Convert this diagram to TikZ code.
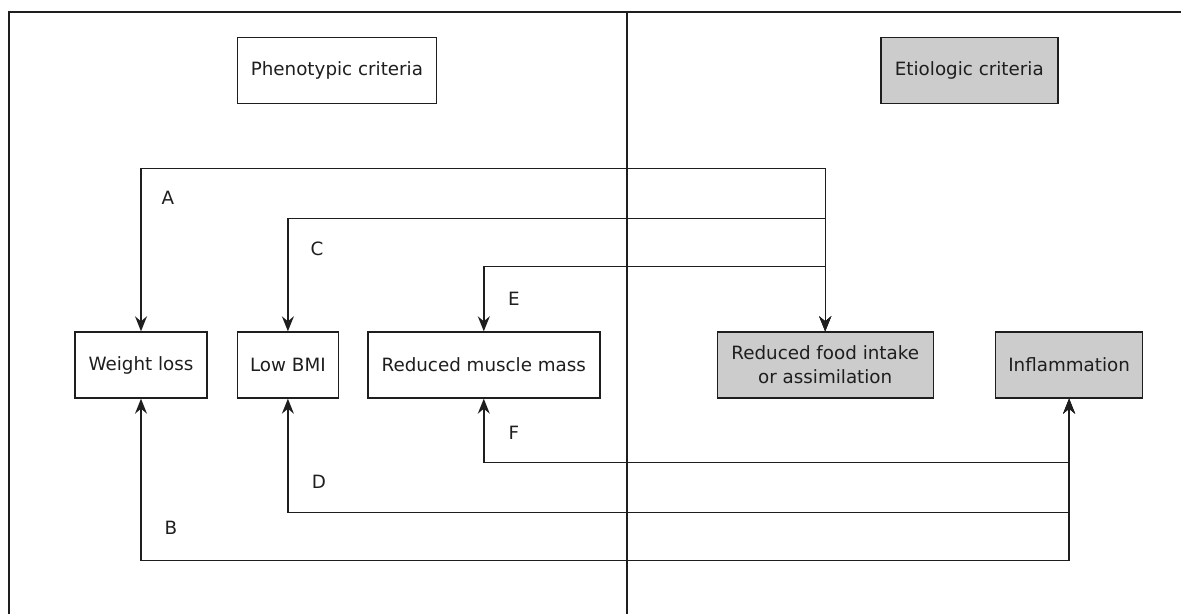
\documentclass[tikz,border=0pt]{standalone}
\usepackage{fontspec}
\setmainfont{DejaVu Sans}
\usepackage{xcolor}
\usepackage{tikz}
\usetikzlibrary{arrows.meta,positioning}
\definecolor{boxgray}{RGB}{204,204,204}
\definecolor{inkgray}{RGB}{30,30,30}

\begin{document}
\begin{tikzpicture}[
    x=1pt, y=1pt,
    font=\fontsize{18.3}{24}\selectfont,
    text=inkgray,
    pheno/.style={
        rectangle,
        draw=inkgray,
        fill=white,
        line width=1.4pt,
        minimum height=66pt,
        inner sep=4pt,
        align=center
    },
    etio/.style={
        pheno,
        fill=boxgray
    },
    link/.style={
        {Stealth[length=15pt,width=12pt,inset=5pt]}-{Stealth[length=15pt,width=12pt,inset=5pt]},
        line width=1.4pt,
        draw=inkgray
    },
    tag/.style={
        inner sep=0pt,
        text=inkgray
    },
    frame/.style={
        draw=inkgray,
        line width=1.3pt
    }
]

\useasboundingbox (0,0) rectangle (1181,-614);

\node[pheno, minimum width=132pt] (wl) at (141,-365) {Weight loss};
\node[pheno, right=29pt of wl, minimum width=101pt] (bmi) {Low BMI};
\node[pheno, right=28pt of bmi, minimum width=232pt] (rmm) {Reduced muscle mass};
\node[etio, right=116pt of rmm, minimum width=216pt] (food) {Reduced food intake\\or assimilation};
\node[etio, right=61pt of food, minimum width=147pt] (infl) {Inflammation};

\node[pheno, above=227pt of bmi.north west, anchor=south west, minimum width=199pt] (pheno) {Phenotypic criteria};
\node[etio, right=443pt of pheno, minimum width=177pt] (etio) {Etiologic criteria};

% links from reduced food intake
\draw[link] (wl.north) -- ++(0,163) node[tag, pos=0.82, xshift=27pt] {A} -| (food.north);
\draw[link] (bmi.north) -- ++(0,113) node[tag, pos=0.73, xshift=29pt] {C} -| (food.north);
\draw[link] (rmm.north) -- ++(0,65) node[tag, pos=0.5, xshift=30pt] {E} -| (food.north);

% links from inflammation
\draw[link] (wl.south) -- ++(0,-162) node[tag, pos=0.8, xshift=30pt] {B} -| (infl.south);
\draw[link] (bmi.south) -- ++(0,-114) node[tag, pos=0.73, xshift=31pt] {D} -| (infl.south);
\draw[link] (rmm.south) -- ++(0,-64) node[tag, pos=0.53, xshift=30pt] {F} -| (infl.south);

% frame and divider
\coordinate (frametl) at (9,-12);
\draw[frame] (1181,-12) -- (frametl) -- (9,-614);
\draw[frame] (627,-12) -- (627,-614);

\end{tikzpicture}
\end{document}
